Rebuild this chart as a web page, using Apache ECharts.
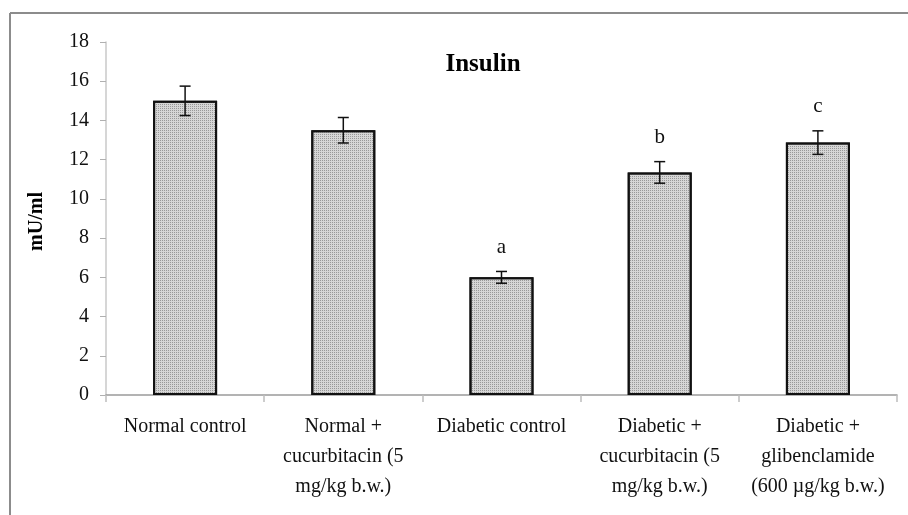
<!DOCTYPE html>
<html><head><meta charset="utf-8">
<script src="https://cdn.jsdelivr.net/npm/echarts@6/dist/echarts.min.js"></script>
<style>html,body{margin:0;padding:0;background:#fff}#c{width:908px;height:515px}</style>
</head><body><div id="c"></div>
<script>
const categories = ['Normal control', 'Normal +\ncucurbitacin (5\nmg/kg b.w.)', 'Diabetic control', 'Diabetic +\ncucurbitacin (5\nmg/kg b.w.)', 'Diabetic +\nglibenclamide\n(600 µg/kg b.w.)'];
const means = [15.0, 13.5, 6.0, 11.35, 12.87];
const errors = [0.75, 0.65, 0.3, 0.55, 0.6];
const letters = ['', '', 'a', 'b', 'c'];
const yMin = 0, yMax = 18, yInterval = 2;
const titleText = 'Insulin';
const yName = 'mU/ml';

const FONT = '"Liberation Serif", "Times New Roman", serif';
const chart = echarts.init(document.getElementById('c'), null, {renderer: 'canvas'});
const errData = means.map((m, i) => [i, m, errors[i], letters[i]]);

chart.setOption({
  animation: false,
  backgroundColor: '#fff',
  aria: {enabled: true, decal: {show: true}},
  title: {
    text: titleText, left: 478, top: 47, textAlign: 'center',
    textStyle: {fontFamily: FONT, fontSize: 25, fontWeight: 'bold', color: '#000'}
  },
  graphic: [
    {type: 'line', shape: {x1: 10, y1: 13, x2: 908, y2: 13}, style: {stroke: '#8c8c8c', lineWidth: 2}},
    {type: 'line', shape: {x1: 10, y1: 13, x2: 10, y2: 515}, style: {stroke: '#8c8c8c', lineWidth: 2}},
    {type: 'text', left: 27, top: 192, rotation: Math.PI / 2, style: {text: yName, fontFamily: FONT, fontSize: 20, fontWeight: 'bold', fill: '#000'}, origin: [0, 0]}
  ],
  grid: {left: 106, right: 11, top: 42, bottom: 120},
  xAxis: {
    type: 'category', data: categories, boundaryGap: true,
    axisLine: {lineStyle: {color: '#9a9a9a', width: 1.5}},
    axisTick: {show: true, length: 7, lineStyle: {color: '#bdbdbd', width: 1.5}},
    axisLabel: {interval: 0, margin: 17, fontFamily: FONT, fontSize: 20, color: '#111', lineHeight: 30}
  },
  yAxis: {
    type: 'value', min: yMin, max: yMax, interval: yInterval,
    axisLine: {show: true, lineStyle: {color: '#c8c8c8', width: 1.5}},
    axisTick: {show: true, length: 6, lineStyle: {color: '#b0b0b0'}},
    splitLine: {show: false},
    axisLabel: {margin: 17, fontFamily: FONT, fontSize: 20, color: '#111'}
  },
  series: [
    {
      type: 'bar', data: means, barWidth: 64,
      itemStyle: {
        color: '#d6d6d6', borderColor: '#111', borderWidth: 2,
        decal: {symbol: 'rect', symbolSize: 1, dashArrayX: [1, 1], dashArrayY: [1, 1], rotation: 0, color: 'rgba(110,110,110,0.6)'}
      },
      z: 2
    },
    {
      type: 'custom', data: errData, z: 5,
      renderItem: function (params, api) {
        const i = api.value(0), m = api.value(1), e = api.value(2);
        const top = api.coord([i, m + e]);
        const bot = api.coord([i, m - e]);
        const cap = 5.5;
        const style = {stroke: '#111', lineWidth: 1.5};
        const children = [
          {type: 'line', shape: {x1: top[0], y1: top[1], x2: bot[0], y2: bot[1]}, style: style},
          {type: 'line', shape: {x1: top[0] - cap, y1: top[1], x2: top[0] + cap, y2: top[1]}, style: style},
          {type: 'line', shape: {x1: bot[0] - cap, y1: bot[1], x2: bot[0] + cap, y2: bot[1]}, style: style}
        ];
        const letter = letters[params.dataIndex];
        if (letter) {
          children.push({type: 'text', style: {text: letter, x: top[0], y: top[1] - 24, align: 'center', verticalAlign: 'middle', fontFamily: FONT, fontSize: 21, fill: '#111'}});
        }
        return {type: 'group', children: children};
      }
    }
  ]
});
</script></body></html>
